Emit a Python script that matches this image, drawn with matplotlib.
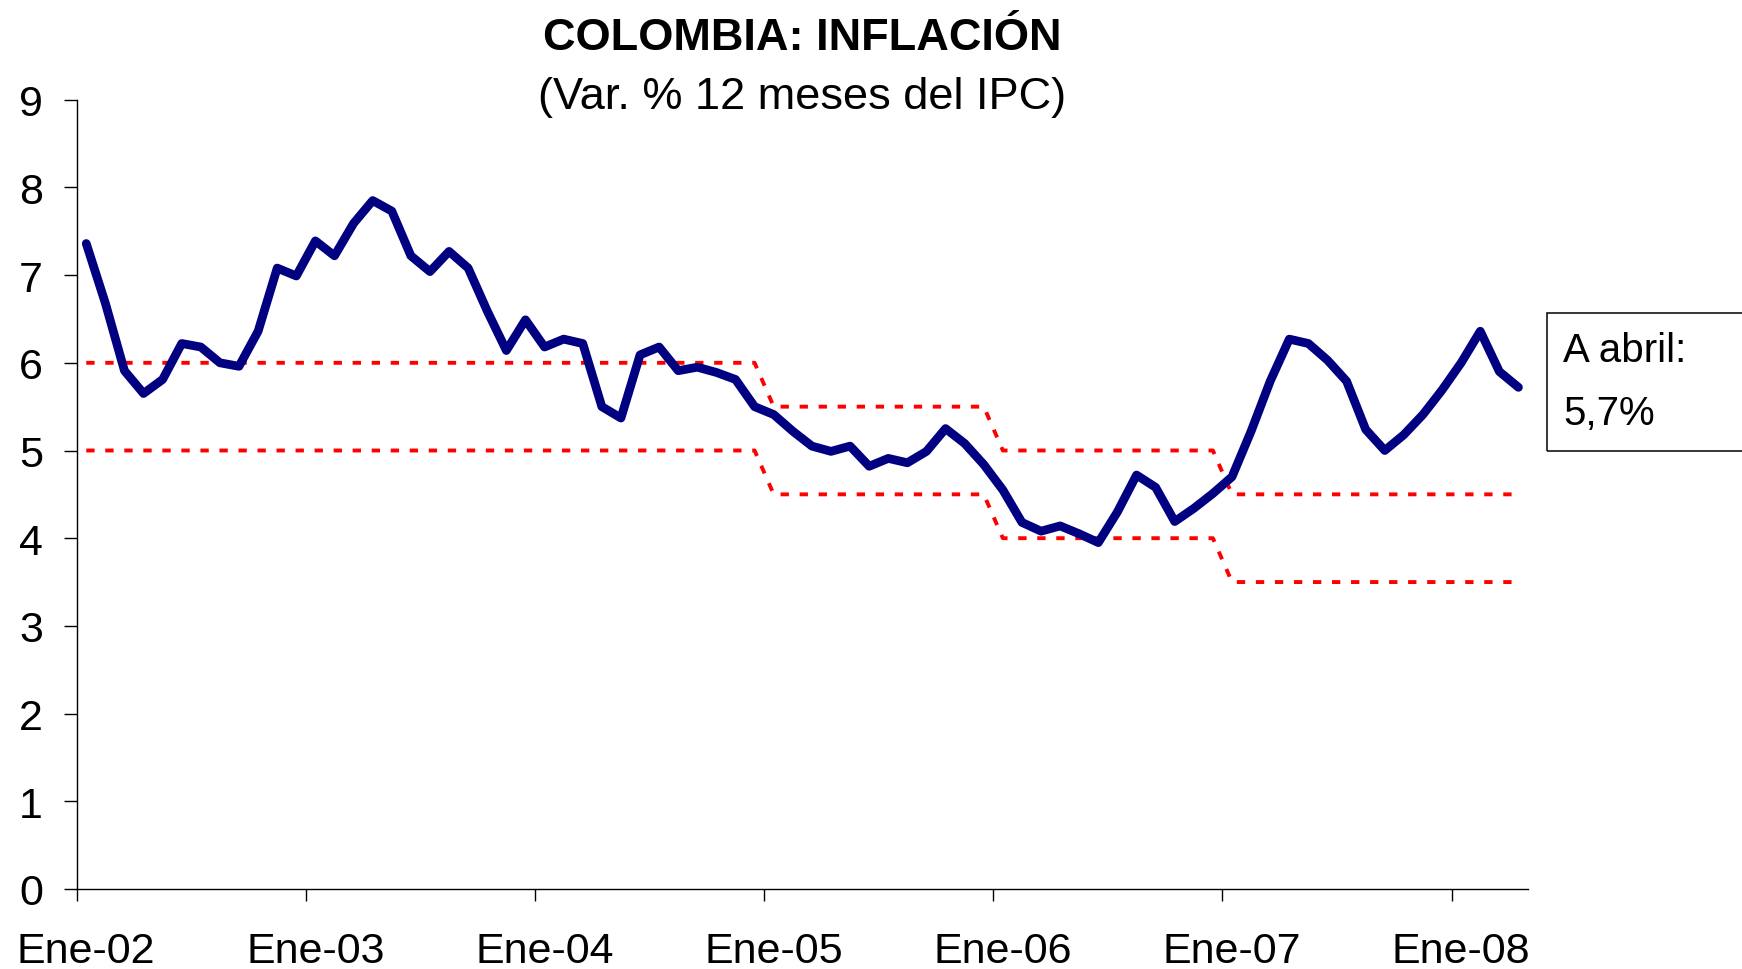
import numpy as np
import matplotlib
matplotlib.use("Agg")
import matplotlib.pyplot as plt
from matplotlib.patches import Rectangle

plt.rcParams['font.family'] = ['Liberation Sans', 'DejaVu Sans']
plt.rcParams['lines.scale_dashes'] = False

# Monthly 12-month CPI inflation, Jan-2002 .. Apr-2008
inflation = [
    7.36, 6.68, 5.91, 5.65, 5.81, 6.22, 6.18, 6.00, 5.96, 6.36, 7.08, 6.99,  # 2002
    7.39, 7.22, 7.59, 7.85, 7.73, 7.22, 7.04, 7.27, 7.08, 6.59, 6.14, 6.49,  # 2003
    6.18, 6.27, 6.22, 5.50, 5.37, 6.09, 6.18, 5.91, 5.95, 5.89, 5.81, 5.50,  # 2004
    5.41, 5.22, 5.05, 4.99, 5.05, 4.82, 4.91, 4.86, 4.99, 5.25, 5.08, 4.84,  # 2005
    4.55, 4.18, 4.08, 4.14, 4.05, 3.95, 4.30, 4.72, 4.58, 4.19, 4.34, 4.51,  # 2006
    4.70, 5.22, 5.79, 6.27, 6.22, 6.03, 5.79, 5.24, 5.00, 5.18, 5.41, 5.69,  # 2007
    6.00, 6.36, 5.90, 5.72,                                                  # 2008
]

# Target range by year
years = ["02", "03", "04", "05", "06", "07", "08"]
months_in_year = [12, 12, 12, 12, 12, 12, 4]
target_upper = [6.0, 6.0, 6.0, 5.5, 5.0, 4.5, 4.5]
target_lower = [5.0, 5.0, 5.0, 4.5, 4.0, 3.5, 3.5]
tick_labels = ["Ene-" + y for y in years]

upper = np.repeat(target_upper, months_in_year)
lower = np.repeat(target_lower, months_in_year)
x = np.arange(len(inflation))

W, H = 1742, 970
fig = plt.figure(figsize=(W / 100, H / 100), dpi=100)
ax = fig.add_axes([76.7 / W, 1 - 890 / H, (1528 - 76.7) / W, (890 - 100.7) / H])

red_ls = (0, (6.0, 7.7))
ax.plot(x, upper, color='#FF0000', lw=2.8, linestyle=red_ls, zorder=2)
ax.plot(x, lower, color='#FF0000', lw=2.8, linestyle=red_ls, zorder=2)
ax.plot(x, inflation, color='#000080', lw=6.3, solid_joinstyle='round',
        solid_capstyle='round', zorder=3)

ax.set_xlim(-0.5, len(inflation) - 0.5)
ax.set_ylim(0, 9)

for s in ['top', 'right']:
    ax.spines[s].set_visible(False)
for s in ['left', 'bottom']:
    ax.spines[s].set_linewidth(1.0)
    ax.spines[s].set_color('black')

ax.set_yticks(range(0, 10))
ax.tick_params(axis='y', direction='out', length=9.4, width=1.0,
               labelsize=31, pad=15)

label_pos = [12 * k for k in range(len(years))]
ax.set_xticks([p - 0.5 for p in label_pos])
ax.set_xticklabels([])
ax.set_xticks(label_pos, minor=True)
ax.set_xticklabels(tick_labels, minor=True)
ax.tick_params(axis='x', which='major', direction='out', length=8.6, width=1.0)
ax.tick_params(axis='x', which='minor', length=0, labelsize=31, pad=30)

cx = (76.7 + 1528) / 2 / W
fig.text(cx, 1 - 49.7 / H, "COLOMBIA: INFLACIÓN", ha='center', va='baseline',
         fontsize=32.5, fontweight='bold')
fig.text(cx, 1 - 109 / H, "(Var. % 12 meses del IPC)", ha='center', va='baseline',
         fontsize=32.5)

# Annotation box
rect = Rectangle((1547 / W, 1 - 452 / H), 0.2, (452 - 314) / H,
                 transform=fig.transFigure, fill=False, edgecolor='black',
                 lw=1.1, clip_on=False)
fig.patches.append(rect)
fig.text(1563 / W, 1 - 361.7 / H, "A abril:", ha='left', va='baseline', fontsize=29)
fig.text(1563 / W, 1 - 425 / H, "5,7%", ha='left', va='baseline', fontsize=29)

fig.savefig("out.png", dpi=100)
